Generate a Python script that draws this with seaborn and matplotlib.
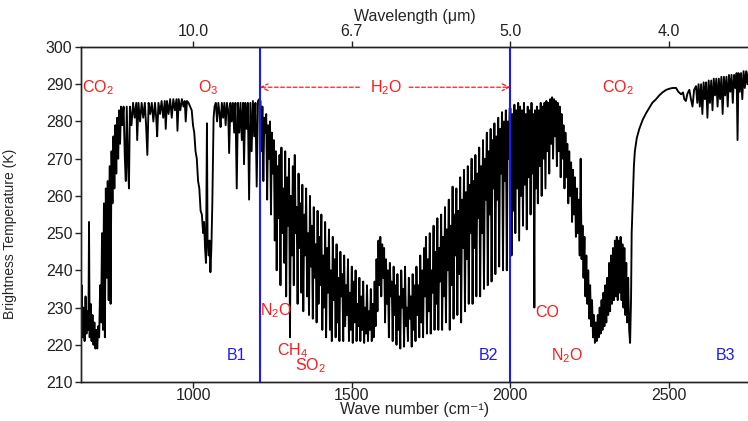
"""Brightness temperature spectrum (IASI-like) with band / absorber annotations."""

import matplotlib

matplotlib.use("Agg")
import matplotlib.pyplot as plt
import numpy as np
import pandas as pd
import seaborn as sns

# ─── Data ───────────────────────────────────────────────────────────────────
# (wavenumber cm-1, brightness temperature K), one list per spectral segment

co2_lw_window = [
    (645, 228), (648, 236), (651, 222), (654, 230), (657, 221), (660, 233), (663, 223),
    (666, 229), (669, 224), (671, 253), (673, 222), (676, 231), (679, 221), (682, 228),
    (685, 220), (688, 226), (691, 219), (694, 224), (697, 219), (700, 225), (703, 222),
    (706, 236), (709, 226), (712, 250), (715, 224), (718, 258), (721, 222), (724, 262),
    (727, 238), (730, 264), (733, 232), (736, 268), (739, 231), (742, 272), (745, 258),
    (748, 276), (751, 262), (754, 279), (757, 266), (760, 281), (763, 270), (766, 283),
    (769, 274), (772, 284), (776, 279), (780, 284), (784, 270), (787, 264), (790, 284),
    (794, 268), (797, 262), (800, 284), (805, 279), (810, 285), (815, 281), (820, 285),
    (823, 275), (827, 285), (832, 280), (837, 285), (842, 281), (847, 285), (851, 279),
    (855, 271), (859, 285), (864, 282), (869, 285), (874, 280), (879, 285), (883, 281),
    (886, 276), (890, 285), (895, 282), (900, 285.5), (905, 281), (910, 285.5), (913, 278),
    (917, 285.5), (922, 282), (927, 286), (932, 281), (937, 286), (942, 283), (947, 286),
    (950, 277.5), (954, 286), (959, 283), (964, 286), (969, 284), (973, 285.5), (976, 280),
    (980, 285.5), (985, 285), (990, 284),
]

o3_band = [
    (995, 283), (999, 279), (1003, 277), (1007, 272), (1011, 270), (1015, 264), (1019, 262),
    (1023, 256), (1027, 255), (1031, 250), (1034, 253), (1037, 246), (1040, 242),
    (1043, 279.5), (1045, 248), (1048, 244), (1051, 248), (1054, 239.5), (1057, 246),
    (1060, 258), (1062, 270), (1064, 281), (1067, 284),
]

window_b1 = [
    (1071, 285), (1075, 280), (1079, 285), (1083, 282), (1086, 278.5), (1090, 285),
    (1094, 281), (1098, 285), (1102, 279), (1106, 285), (1110, 283), (1113, 271.5),
    (1117, 285), (1121, 280), (1125, 285), (1129, 277), (1133, 285), (1137, 262),
    (1141, 285), (1145, 277), (1149, 285), (1153, 275), (1157, 285), (1160, 268.5),
    (1164, 285), (1168, 278), (1172, 285), (1176, 259), (1180, 285), (1184, 272),
    (1188, 285.5), (1192, 276), (1196, 285), (1200, 262.5), (1204, 285.5), (1208, 286),
]

h2o_band = [
    (1212, 285.5), (1215, 272), (1218, 284), (1221, 264), (1224, 281), (1227, 277),
    (1230, 282), (1233, 259), (1236, 279), (1239, 270), (1242, 280), (1245, 255),
    (1248, 277), (1251, 266), (1254, 275), (1257, 248), (1260, 272), (1263, 240),
    (1266, 268), (1269, 254), (1272, 271), (1275, 236), (1278, 273), (1281, 250),
    (1284, 262), (1287, 242), (1290, 272), (1293, 233), (1296, 265), (1299, 252),
    (1302, 270), (1305, 222), (1308, 260), (1311, 244), (1314, 268), (1317, 236),
    (1320, 271), (1323, 250), (1326, 257), (1329, 231), (1332, 266), (1335, 246),
    (1338, 258), (1341, 234), (1344, 263), (1347, 229), (1350, 255), (1353, 244),
    (1356, 262), (1359, 233), (1362, 250), (1365, 228), (1368, 260), (1371, 241),
    (1374, 252), (1377, 227), (1380, 257), (1383, 238), (1386, 247), (1389, 226),
    (1392, 256), (1395, 231), (1398, 249), (1401, 236), (1404, 255), (1407, 224),
    (1410, 244), (1413, 230), (1416, 253), (1419, 222), (1422, 246), (1425, 234),
    (1428, 251), (1431, 224), (1434, 240), (1437, 221), (1440, 249), (1443, 232),
    (1446, 243), (1449, 222), (1452, 247), (1455, 226), (1458, 238), (1461, 221),
    (1464, 245), (1467, 233), (1470, 239), (1473, 221), (1476, 244), (1479, 225),
    (1482, 236), (1485, 228), (1488, 243), (1491, 221), (1494, 234), (1497, 224),
    (1500, 241), (1503, 220.5), (1506, 237), (1509, 226), (1512, 240), (1515, 221),
    (1518, 231), (1521, 225), (1524, 238), (1527, 221), (1530, 233), (1533, 224),
    (1536, 237), (1539, 220.5), (1542, 230), (1545, 223), (1548, 236), (1551, 221),
    (1554, 229), (1557, 224), (1560, 235), (1563, 221), (1566, 231), (1569, 222),
    (1572, 237), (1575, 225), (1578, 243), (1581, 229), (1584, 248), (1587, 236),
    (1590, 249), (1593, 233), (1596, 247), (1599, 238), (1602, 246), (1605, 226),
    (1608, 243), (1611, 231), (1614, 240), (1617, 222), (1620, 242), (1623, 233),
    (1626, 237), (1629, 221), (1632, 241), (1635, 228), (1638, 236), (1641, 220),
    (1644, 239), (1647, 224), (1650, 233), (1653, 219), (1656, 240), (1659, 230),
    (1662, 235), (1665, 219.5), (1668, 241), (1671, 225), (1674, 230), (1677, 221),
    (1680, 238), (1683, 227), (1686, 233), (1689, 219.5), (1692, 239), (1695, 224),
    (1698, 236), (1701, 221), (1704, 241), (1707, 228), (1710, 236), (1713, 222),
    (1716, 244), (1719, 226), (1722, 240), (1725, 222), (1728, 246), (1731, 233),
    (1734, 249), (1737, 223), (1740, 243), (1743, 229), (1746, 250), (1749, 223),
    (1752, 240), (1755, 234), (1758, 252), (1761, 224), (1764, 245), (1767, 231),
    (1770, 254), (1773, 224), (1776, 246), (1779, 237), (1782, 255), (1785, 224),
    (1788, 249), (1791, 233), (1794, 257), (1797, 226), (1800, 251), (1803, 240),
    (1806, 259), (1809, 224), (1812, 252), (1815, 236), (1818, 262.5), (1821, 227),
    (1824, 255), (1827, 244), (1830, 262), (1833, 228), (1836, 256), (1839, 239),
    (1842, 265), (1845, 226), (1848, 259), (1851, 246), (1854, 267), (1857, 229),
    (1860, 261), (1863, 243), (1866, 268), (1869, 231), (1872, 263), (1875, 250),
    (1878, 270), (1881, 231), (1884, 264), (1887, 246), (1890, 271), (1893, 233),
    (1896, 266), (1899, 254), (1902, 273), (1905, 233), (1908, 268), (1911, 250),
    (1914, 275), (1917, 235), (1920, 270), (1923, 259), (1926, 277), (1929, 236),
    (1932, 272), (1935, 255), (1938, 278), (1941, 237), (1944, 275), (1947, 262),
    (1950, 279.5), (1953, 239), (1956, 276), (1959, 259), (1962, 281), (1965, 241),
    (1968, 278), (1971, 266), (1974, 282.5), (1977, 240), (1980, 280), (1983, 264),
    (1986, 283), (1989, 240), (1992, 280), (1995, 270), (1998, 283.5),
]

co_n2o_band = [
    (2001, 283.5), (2004, 244), (2007, 282), (2010, 256), (2013, 284.5), (2016, 250),
    (2019, 283), (2022, 262), (2025, 285), (2028, 248), (2031, 284), (2034, 260),
    (2037, 283), (2040, 252), (2043, 285), (2046, 263), (2049, 282), (2052, 251),
    (2055, 284), (2058, 265), (2061, 283), (2064, 255), (2067, 285), (2070, 266),
    (2073, 282), (2076, 230), (2078, 283), (2081, 262), (2084, 284), (2087, 258),
    (2090, 283), (2093, 268), (2096, 285), (2099, 260), (2102, 284), (2105, 270),
    (2108, 285), (2111, 262), (2114, 285.5), (2117, 272), (2120, 285), (2123, 266),
    (2126, 286), (2129, 274), (2132, 286.5), (2135, 270), (2138, 286), (2141, 276),
    (2144, 285.5), (2147, 268), (2150, 285), (2153, 272), (2156, 284), (2159, 265),
    (2162, 282), (2165, 270), (2168, 279), (2171, 262), (2174, 277), (2177, 265),
    (2180, 274), (2183, 258), (2186, 272), (2189, 260), (2192, 269), (2195, 253),
    (2198, 267), (2201, 255), (2204, 265), (2207, 249), (2210, 262), (2213, 250),
    (2216, 259), (2219, 244), (2222, 270), (2225, 243), (2228, 252), (2231, 238),
    (2234, 249), (2237, 233), (2240, 244), (2243, 231), (2246, 240), (2249, 227),
    (2252, 236), (2255, 225), (2258, 232), (2261, 222), (2264, 228), (2267, 220.5),
    (2270, 226), (2273, 221), (2276, 228), (2279, 222), (2282, 230), (2285, 223),
    (2288, 232), (2291, 224), (2294, 234), (2297, 225), (2300, 236), (2303, 226),
    (2306, 238), (2309, 228), (2312, 242), (2315, 229), (2318, 244), (2321, 231),
    (2324, 246), (2327, 232), (2330, 248), (2333, 233), (2336, 249), (2339, 232),
    (2342, 248), (2345, 234), (2348, 249), (2351, 232), (2354, 247), (2357, 230),
    (2360, 246), (2363, 228), (2366, 242), (2369, 226), (2372, 238), (2375, 224),
    (2378, 220.5), (2381, 232), (2383, 250),
]

co2_sw_band = [
    (2386, 258), (2388, 264), (2390, 268), (2393, 272), (2399, 275.5), (2407, 278),
    (2418, 280.5), (2429, 282.3), (2439, 283.7), (2448, 285), (2460, 286), (2470, 287),
    (2480, 287.8), (2492, 288.5), (2502, 288.8), (2512, 289), (2523, 289), (2530, 288),
    (2539, 287.3), (2545, 287.8), (2549, 286), (2554, 285.5), (2559, 287.5), (2565, 288.5),
    (2570, 286), (2575, 284), (2580, 288.5), (2586, 289.5), (2590, 285), (2594, 290),
    (2598, 284), (2602, 290), (2606, 282), (2610, 290.5), (2614, 286), (2618, 290.5),
    (2622, 281), (2626, 291), (2630, 285), (2634, 291), (2638, 283), (2642, 291.5),
    (2646, 287), (2650, 291.5), (2654, 284), (2658, 291.5), (2662, 286), (2666, 292),
    (2670, 282), (2674, 292), (2678, 287), (2682, 292), (2686, 284), (2690, 292.5),
    (2694, 288), (2698, 292.5), (2702, 285), (2706, 292.5), (2710, 289), (2714, 293),
    (2717, 275), (2720, 293), (2724, 288), (2728, 293), (2732, 286), (2736, 293.5),
    (2740, 289), (2744, 293.5), (2748, 290), (2752, 293.5), (2760, 293),
]

channel_edges = [1210, 2000]
band_names = ["B1", "B2", "B3"]
band_label_wn = [1135, 1930, 2678]

absorbers = ["CO$_2$", "O$_3$", "H$_2$O", "CO$_2$", "N$_2$O", "CH$_4$", "SO$_2$", "CO", "N$_2$O"]
absorber_wn = [700, 1047, 1609, 2338, 1260, 1313, 1369, 2117, 2180]
absorber_bt = [289.2, 289.2, 289.2, 289.2, 229.3, 218.5, 214.5, 228.8, 217.2]

bottom_ticks = [1000, 1500, 2000, 2500]
top_tick_labels = ["10.0", "6.7", "5.0", "4.0"]

RED = "#ff1a1a"
BLUE = "#1a1aff"

# ─── Figure ─────────────────────────────────────────────────────────────────

sns.set_theme(style="ticks")
plt.rcParams["font.family"] = ["Liberation Sans", "DejaVu Sans"]
plt.rcParams["mathtext.default"] = "regular"

segments = [co2_lw_window, o3_band, window_b1, h2o_band, co_n2o_band, co2_sw_band]
spectrum = pd.DataFrame(
    [pt for seg in segments for pt in seg], columns=["wavenumber", "bt"]
)

fig = plt.figure(figsize=(7.48, 4.21), dpi=100)
ax = fig.add_axes([0.108, 0.0926, 0.892, 0.7957])

sns.lineplot(
    data=spectrum, x="wavenumber", y="bt", ax=ax, color="black",
    linewidth=1.35, estimator=None, sort=False,
)

for wn in channel_edges:
    ax.axvline(wn, color=BLUE, linewidth=1.5, zorder=3)

for name, wn in zip(band_names, band_label_wn):
    ax.text(wn, 217.2, name, color=BLUE, fontsize=11.5, ha="center", va="center")

for name, wn, bt in zip(absorbers, absorber_wn, absorber_bt):
    ax.text(wn, bt, name, color=RED, fontsize=11.5, ha="center", va="center")

# H2O band extent arrows
arrow_kw = dict(arrowstyle="->", color=RED, linewidth=0.9, linestyle=(0, (3, 2)),
                shrinkA=0, shrinkB=0)
ax.annotate("", xy=(1210, 289.2), xytext=(1524, 289.2), arrowprops=arrow_kw)
ax.annotate("", xy=(2000, 289.2), xytext=(1681, 289.2), arrowprops=arrow_kw)

ax.set_xlim(645, 2750)
ax.set_ylim(210, 300)
ax.set_xticks(bottom_ticks)
ax.set_yticks(range(210, 301, 10))
ax.tick_params(direction="out", length=4, width=1, labelsize=11.5, pad=0.5, colors="#222222")
ax.tick_params(axis="y", labelsize=11.5, pad=2)
ax.set_xlabel("Wave number (cm⁻¹)", fontsize=11.5)
ax.xaxis.set_label_coords(0.5, -0.06)
ax.set_ylabel("Brightness Temperature (K)", fontsize=10)
ax.yaxis.set_label_coords(-0.096, 0.443)

ax_top = ax.twiny()
ax_top.set_xlim(ax.get_xlim())
ax_top.set_xticks(bottom_ticks)
ax_top.set_xticklabels(top_tick_labels)
ax_top.tick_params(direction="out", length=4, width=1, labelsize=11.5, pad=2, colors="#222222")
ax_top.set_xlabel("Wavelength (μm)", fontsize=11.5, labelpad=2)

for a in (ax, ax_top):
    a.spines["right"].set_visible(False)
    for side in ("left", "bottom", "top"):
        a.spines[side].set_linewidth(1.0)
        a.spines[side].set_color("#222222")

fig.savefig("out.png", dpi=100)
